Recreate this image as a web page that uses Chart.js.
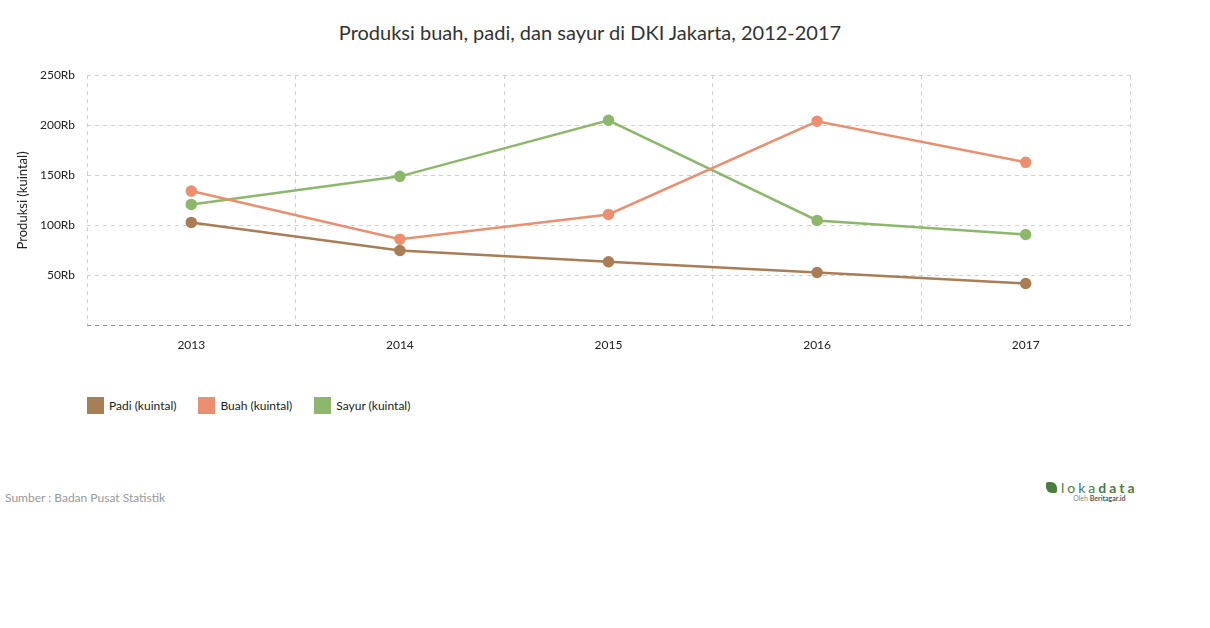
<!DOCTYPE html>
<html>
<head>
<meta charset="utf-8">
<script src="https://cdn.jsdelivr.net/npm/chart.js@4"></script>
<style>
  body { margin: 0; background: #fff; font-family: Lato, "Noto Sans", sans-serif; }
  #title { position: absolute; left: 0; width: 1180px; top: 20px; text-align: center; font-size: 20px; color: #333; }
  #wrap { position: absolute; left: 0; top: 56px; width: 1140px; height: 308px; }
  #legend { position: absolute; left: 87px; top: 397px; font-size: 12px; color: #222; display: flex; }
  #legend span.item { display: flex; align-items: center; margin-right: 22px; }
  #legend span.box { width: 17px; height: 17px; margin-right: 5px; display: inline-block; }
  #source { position: absolute; left: 5px; top: 490px; font-size: 12px; color: #999; }
  #logo { position: absolute; left: 1046px; top: 479px; color: #4c7d3e; }
  #logo .name { font-size: 14px; letter-spacing: 3px; }
  #logo .name b { font-weight: 700; }
  #logo .by { font-size: 7px; color: #888; text-align: right; margin-right: 12px; margin-top: -2px; }
  #logo .by b { color: #555; }
</style>
</head>
<body>
<div id="title">Produksi buah, padi, dan sayur di DKI Jakarta, 2012-2017</div>
<div id="wrap"><canvas id="chart"></canvas></div>
<div id="legend"></div>
<div id="source">Sumber : Badan Pusat Statistik</div>
<div id="logo">
  <div class="name"><span style="display:inline-block;width:11px;height:11px;background:#4c7d3e;border-radius:2px 6px 2px 6px;margin-right:4px;letter-spacing:0"></span>loka<b>data</b></div>
  <div class="by">Oleh <b>Beritagar.id</b></div>
</div>
<script>
const YEARS = ['2013', '2014', '2015', '2016', '2017']
const PADI = [103000, 75000, 63700, 53000, 42000]
const BUAH = [134300, 86300, 111000, 204000, 163000]
const SAYUR = [121000, 149000, 205000, 105000, 91000]

const SERIES = [
  { label: 'Padi (kuintal)', data: PADI, color: '#a97d55' },
  { label: 'Buah (kuintal)', data: BUAH, color: '#ea9070' },
  { label: 'Sayur (kuintal)', data: SAYUR, color: '#8db86b' }
]

const GRID = '#cfcfcf'
const AXIS = '#8a8a8a'
const FONT = 'Lato'

const legend = document.getElementById('legend')
SERIES.forEach(s => {
  const item = document.createElement('span')
  item.className = 'item'
  item.innerHTML = `<span class="box" style="background:${s.color}"></span>${s.label}`
  legend.appendChild(item)
})

new Chart(document.getElementById('chart'), {
  type: 'line',
  data: {
    labels: YEARS,
    datasets: SERIES.map(s => ({
      label: s.label,
      data: s.data,
      borderColor: s.color,
      backgroundColor: s.color,
      pointBackgroundColor: s.color,
      pointBorderColor: s.color,
      borderWidth: 2.5,
      pointRadius: 4.5,
      tension: 0
    }))
  },
  options: {
    responsive: true,
    maintainAspectRatio: false,
    animation: false,
    layout: { padding: { top: 5, right: 10, left: 15, bottom: 0 } },
    plugins: {
      legend: { display: false },
      tooltip: { enabled: false }
    },
    scales: {
      x: {
        offset: true,
        grid: { offset: true, color: GRID, drawTicks: false },
        border: { display: false, dash: [4, 4] },
        ticks: { color: '#222', font: { family: FONT, size: 12 }, padding: 12 }
      },
      y: {
        min: 0,
        max: 250000,
        afterFit: scale => { scale.width = 72 },
        grid: { color: c => c.tick && c.tick.value === 0 ? AXIS : GRID, drawTicks: false },
        border: { display: false, dash: [4, 4] },
        ticks: {
          stepSize: 50000,
          color: '#222',
          padding: 12,
          font: { family: FONT, size: 12 },
          callback: v => v === 0 ? '' : (v / 1000) + 'Rb'
        },
        title: {
          display: true,
          text: 'Produksi (kuintal)',
          color: '#222',
          font: { family: FONT, size: 13 },
          padding: { top: 0, bottom: 0 }
        }
      }
    }
  }
})
</script>
</body>
</html>
